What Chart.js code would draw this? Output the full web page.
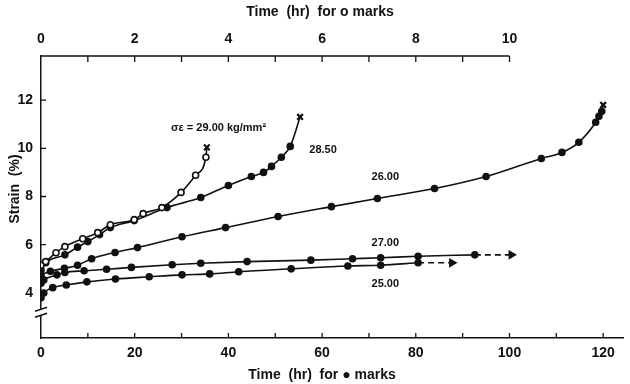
<!DOCTYPE html>
<html>
<head>
<meta charset="utf-8">
<script src="https://cdn.jsdelivr.net/npm/chart.js"></script>
<style>
  body { margin: 0; background: #fff; }
  canvas { display: block; }
</style>
</head>
<body>
<canvas id="chart" width="630" height="384"></canvas>
<script>
  // sigma = 29.00, open marks, time read on the top axis (hr)
  const hrs29 = [0, 0.1, 0.32, 0.51, 0.89, 1.21, 1.48, 1.99, 2.18, 2.58, 2.99, 3.3, 3.52, 3.54];
  const strain29 = [5.15, 5.3, 5.67, 5.92, 6.25, 6.5, 6.83, 7.04, 7.29, 7.54, 8.17, 8.88, 9.63, 10.04];

  // filled marks, time read on the bottom axis (hr)
  const hrs2850 = [0, 1, 5.1, 7.8, 10, 12.5, 14.8, 19.9, 26.9, 34.1, 40, 44.9, 47.5, 49.2, 51.3, 53.2, 55.3];
  const strain2850 = [4.95, 5.25, 5.58, 5.9, 6.13, 6.42, 6.71, 7.0, 7.54, 7.96, 8.46, 8.83, 9.0, 9.25, 9.63, 10.08, 11.3];

  const hrs26 = [0, 2, 5, 7.8, 10.8, 15.8, 20.6, 30.1, 39.4, 50.6, 62, 71.8, 84, 95, 106.8, 111.2, 114.8, 118.4, 119.1, 119.7, 120];
  const strain26 = [4.75, 4.9, 5.02, 5.15, 5.42, 5.68, 5.88, 6.33, 6.71, 7.17, 7.58, 7.92, 8.33, 8.83, 9.58, 9.83, 10.25, 11.08, 11.33, 11.54, 11.8];

  const hrs27 = [0, 0.6, 3.4, 5.1, 9.2, 14, 19.3, 28, 34.1, 44, 57.6, 66.5, 72.5, 80.5, 92.6];
  const strain27 = [4.4, 4.54, 4.75, 4.85, 4.92, 4.98, 5.06, 5.17, 5.23, 5.3, 5.36, 5.42, 5.46, 5.52, 5.58];
  const hrs27Ext = [92.6, 100.4];

  const hrs25 = [0, 0.6, 2.5, 5.4, 9.8, 15.9, 23.1, 30.1, 36, 42.2, 53.4, 65.5, 72.5, 80.5];
  const strain25 = [3.8, 4.0, 4.22, 4.33, 4.46, 4.58, 4.67, 4.75, 4.79, 4.88, 5.0, 5.12, 5.15, 5.25];
  const hrs25Ext = [80.5, 87.7];

  const xTicks = [0, 20, 40, 60, 80, 100, 120];
  const topTicks = [0, 2, 4, 6, 8, 10];
  const yTicks = [4, 6, 8, 10, 12];

  const curveNames = ['σε = 29.00 kg/mm²', '28.50', '26.00', '27.00', '25.00'];
  const nameHr = [37.9, 60.2, 73.5, 73.5, 73.5];
  const nameStrain = [10.85, 9.93, 8.81, 6.07, 4.37];

  const INK = '#111';
  const FONT = 'Liberation Sans, Arial, sans-serif';

  const pts = (xs, ys) => xs.map((x, i) => ({ x, y: ys[i] }));

  // broken specimens end with a cross, the others keep going
  function curve(xs, ys, axis, fill, broke) {
    const last = xs.length - 1;
    const isEnd = i => broke && i === last;
    return {
      data: pts(xs, ys),
      xAxisID: axis,
      borderColor: INK,
      borderWidth: 1.6,
      cubicInterpolationMode: 'monotone',
      pointStyle: xs.map((_, i) => isEnd(i) ? 'crossRot' : 'circle'),
      pointRadius: xs.map((_, i) => isEnd(i) ? 4 : 3),
      pointBorderWidth: xs.map((_, i) => isEnd(i) ? 2.2 : 1.6),
      pointBackgroundColor: fill,
      pointBorderColor: INK
    };
  }

  function extension(xs, y) {
    return {
      data: xs.map(x => ({ x, y })),
      xAxisID: 'x',
      borderColor: INK,
      borderWidth: 1.6,
      borderDash: [6, 4],
      pointStyle: 'triangle',
      rotation: 90,
      pointRadius: [0, 4],
      pointBackgroundColor: INK,
      pointBorderColor: INK
    };
  }

  const decorations = {
    id: 'decorations',
    afterDraw(chart) {
      const ctx = chart.ctx;
      const { x, x2, y } = chart.scales;
      const area = chart.chartArea;
      ctx.save();
      ctx.strokeStyle = INK;
      ctx.lineWidth = 1.5;

      // top axis line stops at 10 hr
      ctx.beginPath();
      ctx.moveTo(area.left, area.top);
      ctx.lineTo(x2.getPixelForValue(10), area.top);
      ctx.stroke();

      ctx.lineWidth = 1.3;
      ctx.beginPath();
      for (let v = 1; v <= 10; v++) {
        const px = x2.getPixelForValue(v);
        ctx.moveTo(px, area.top);
        ctx.lineTo(px, area.top + 6);
      }
      for (let v = 10; v <= 120; v += 10) {
        const px = x.getPixelForValue(v);
        ctx.moveTo(px, area.bottom);
        ctx.lineTo(px, area.bottom - 5);
      }
      yTicks.forEach(v => {
        const py = y.getPixelForValue(v);
        ctx.moveTo(area.left, py);
        ctx.lineTo(area.left + 5, py);
      });
      ctx.stroke();

      // axis break
      const by = y.getPixelForValue(3.2);
      ctx.fillStyle = '#fff';
      ctx.fillRect(area.left - 3, by - 3, 6, 6);
      ctx.lineWidth = 1.5;
      ctx.beginPath();
      ctx.moveTo(area.left - 6, by - 1);
      ctx.lineTo(area.left + 6, by - 5);
      ctx.moveTo(area.left - 6, by + 5);
      ctx.lineTo(area.left + 6, by + 1);
      ctx.stroke();

      // curve names
      ctx.fillStyle = INK;
      ctx.textAlign = 'center';
      ctx.textBaseline = 'middle';
      ctx.font = 'bold 11px ' + FONT;
      curveNames.forEach((t, i) => {
        ctx.fillText(t, x.getPixelForValue(nameHr[i]), y.getPixelForValue(nameStrain[i]));
      });

      // axis titles
      ctx.font = 'bold 14px ' + FONT;
      ctx.fillText('Time  (hr)  for o marks', 320, 12);
      ctx.fillText('Time  (hr)  for ● marks', 322, 375);
      ctx.translate(15, 189);
      ctx.rotate(-Math.PI / 2);
      ctx.fillText('Strain  (%)', 0, 0);
      ctx.restore();
    }
  };

  const tickFont = { family: FONT, size: 14, weight: 'bold' };

  new Chart(document.getElementById('chart'), {
    type: 'line',
    data: {
      datasets: [
        curve(hrs29, strain29, 'x2', '#fff', true),
        curve(hrs2850, strain2850, 'x', INK, true),
        curve(hrs26, strain26, 'x', INK, true),
        curve(hrs27, strain27, 'x', INK, false),
        extension(hrs27Ext, strain27[strain27.length - 1]),
        curve(hrs25, strain25, 'x', INK, false),
        extension(hrs25Ext, strain25[strain25.length - 1])
      ]
    },
    options: {
      responsive: false,
      animation: false,
      layout: { padding: { left: 0, right: 2, top: 0, bottom: 0 } },
      plugins: { legend: { display: false }, tooltip: { enabled: false } },
      scales: {
        x: {
          type: 'linear', position: 'bottom', min: 0, max: 124.4,
          afterBuildTicks: s => { s.ticks = xTicks.map(v => ({ value: v })); },
          afterFit: s => { s.height = 46; },
          ticks: { color: INK, font: tickFont, padding: 7 },
          grid: { drawOnChartArea: false, drawTicks: false },
          border: { color: INK, width: 1.5 }
        },
        x2: {
          type: 'linear', position: 'top', min: 0, max: 12.44,
          afterBuildTicks: s => { s.ticks = topTicks.map(v => ({ value: v })); },
          afterFit: s => { s.height = 56; },
          ticks: { color: INK, font: tickFont, padding: 8 },
          grid: { drawOnChartArea: false, drawTicks: false },
          border: { display: false }
        },
        y: {
          type: 'linear', min: 2.13, max: 13.83,
          afterBuildTicks: s => { s.ticks = yTicks.map(v => ({ value: v })); },
          afterFit: s => { s.width = 41; },
          ticks: { color: INK, font: tickFont, padding: 8 },
          grid: { drawOnChartArea: false, drawTicks: false },
          border: { color: INK, width: 1.5 }
        }
      }
    },
    plugins: [decorations]
  });
</script>
</body>
</html>
